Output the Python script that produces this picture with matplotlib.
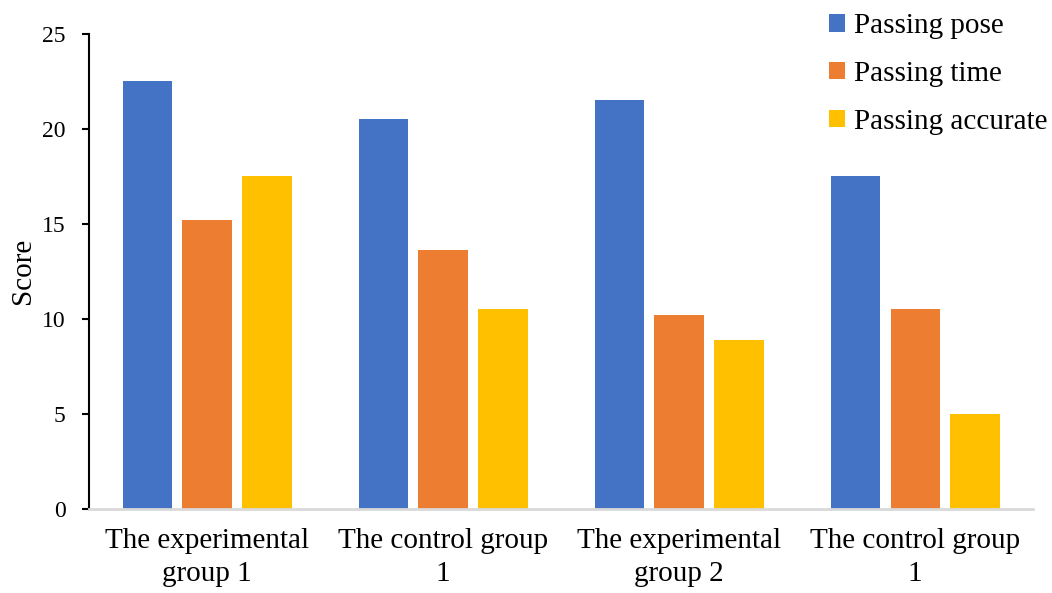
import numpy as np
import matplotlib
matplotlib.use("Agg")
import matplotlib.pyplot as plt

plt.rcParams['font.family'] = ['Liberation Serif', 'DejaVu Serif']

groups = ["The experimental\ngroup 1", "The control group\n1",
          "The experimental\ngroup 2", "The control group\n1"]
series = ["Passing pose", "Passing time", "Passing accurate"]
passing_pose = [22.5, 20.5, 21.5, 17.5]
passing_time = [15.2, 13.6, 10.2, 10.5]
passing_accurate = [17.5, 10.5, 8.9, 5.0]
colors = ["#4472C4", "#ED7D31", "#FFC000"]

fig = plt.figure(figsize=(10.52, 5.93), dpi=100)
ax = fig.add_axes([0.0846, 0.1417, 0.8974, 0.8018])

x = np.arange(len(groups))
width = 0.208
step = 0.254
for i, (name, vals) in enumerate(zip(series, [passing_pose, passing_time, passing_accurate])):
    ax.bar(x + (i - 1) * step, vals, width, color=colors[i], label=name)

ax.set_xlim(-0.5, len(groups) - 0.5)
ax.set_ylim(0, 25)
ax.set_yticks(range(0, 26, 5))
ax.set_xticks(x)
ax.set_xticklabels(groups, fontsize=21, linespacing=1.32)
ax.tick_params(axis='x', length=0, pad=14)
ax.tick_params(axis='y', labelsize=17, length=5, width=1.5, pad=12)
ax.set_ylabel("Score", fontsize=21, labelpad=4)

for s in ["top", "right"]:
    ax.spines[s].set_visible(False)
ax.spines["left"].set_linewidth(1.5)
ax.spines["bottom"].set_color("#D9D9D9")
ax.spines["bottom"].set_linewidth(2)

fig.legend(loc="upper right", bbox_to_anchor=(1.008, 1.0), frameon=False,
           fontsize=21, handlelength=0.55, handleheight=0.55, handletextpad=0.3,
           labelspacing=0.75, borderaxespad=0.05)

fig.savefig("out.png", dpi=100)
